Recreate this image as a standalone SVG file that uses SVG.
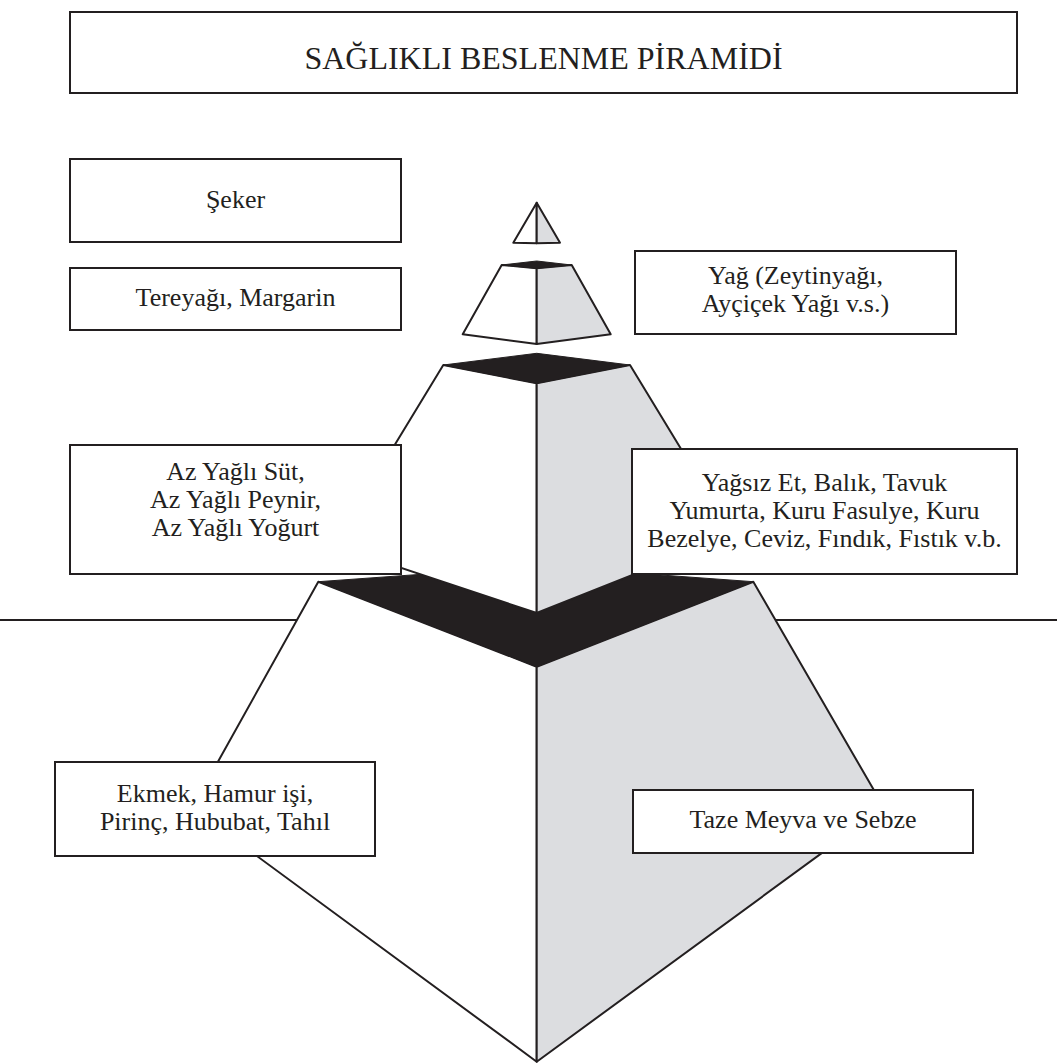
<svg xmlns="http://www.w3.org/2000/svg" width="1057" height="1063" viewBox="0 0 1057 1063">
<style>
.box{fill:#fff;stroke:#231f20;stroke-width:2}
text{font-family:'Liberation Serif','Times New Roman','DejaVu Serif',serif;font-size:26px;fill:#231f20;text-anchor:middle}
text.title{font-size:32px}
.w{fill:#fff;stroke:#231f20;stroke-width:2;stroke-linejoin:round}
.g{fill:#dcdde0;stroke:#231f20;stroke-width:2;stroke-linejoin:round}
.k{fill:#231f20;stroke:#231f20;stroke-width:1;stroke-linejoin:round}
</style>
<rect width="1057" height="1063" fill="#fff"/>
<g id="ground-line"><line x1="0" y1="620" x2="1057" y2="620" stroke="#231f20" stroke-width="2"/></g>
<g id="pyramid">
<g id="tier-bottom">
<polygon class="w" points="318.3,581.7 536.7,666.7 536.7,1061.7 192,808.3"/>
<polygon class="g" points="536.7,666.7 753.3,581.7 884,807.6 536.7,1061.7"/>
<polygon class="k" points="318.3,581.7 536.7,566 753.3,581.7 536.7,666.7"/>
</g>
<g id="tier-middle">
<polygon class="w" points="443.3,365 536.7,383.3 536.7,613 333.6,545.4"/>
<polygon class="g" points="536.7,383.3 630,365 733.3,534.9 536.7,613"/>
<polygon class="k" points="443.3,365 536.7,353.3 630,365 536.7,383.3"/>
</g>
<g id="tier-upper">
<polygon class="w" points="501.7,265 536.7,268.3 536.7,344 462.7,334.3"/>
<polygon class="g" points="536.7,268.3 571.7,265 610.7,334.3 536.7,344"/>
<polygon class="k" points="501.7,265 536.7,261 571.7,265 536.7,268.3"/>
</g>
<g id="tier-top">
<polygon class="w" points="536.7,202.7 536.7,243.3 513.3,242.7"/>
<polygon class="g" points="536.7,202.7 560,242.7 536.7,243.3"/>
</g>
</g>
<g id="title"><rect class="box" x="70" y="12" width="947" height="81"/><text class="title" x="543.5" y="69">SAĞLIKLI BESLENME PİRAMİDİ</text></g>
<g id="seker"><rect class="box" x="70" y="159" width="331" height="83"/><text x="235.5" y="208">Şeker</text></g>
<g id="tereyagi"><rect class="box" x="70" y="268" width="331" height="62"/><text x="235.5" y="306">Tereyağı, Margarin</text></g>
<g id="yag"><rect class="box" x="635" y="251" width="321" height="83"/><text x="795.5" y="284">Yağ (Zeytinyağı,</text><text x="795.5" y="312">Ayçiçek Yağı v.s.)</text></g>
<g id="sut"><rect class="box" x="70" y="445" width="331" height="129"/><text x="235.5" y="480">Az Yağlı Süt,</text><text x="235.5" y="508">Az Yağlı Peynir,</text><text x="235.5" y="536">Az Yağlı Yoğurt</text></g>
<g id="et"><rect class="box" x="632" y="449" width="385" height="125"/><text x="824.5" y="491">Yağsız Et, Balık, Tavuk</text><text x="824.5" y="519">Yumurta, Kuru Fasulye, Kuru</text><text x="824.5" y="547">Bezelye, Ceviz, Fındık, Fıstık v.b.</text></g>
<g id="ekmek"><rect class="box" x="55" y="762" width="320" height="94"/><text x="215" y="802">Ekmek, Hamur işi,</text><text x="215" y="830">Pirinç, Hububat, Tahıl</text></g>
<g id="meyve"><rect class="box" x="633" y="790" width="340" height="63"/><text x="803" y="828">Taze Meyva ve Sebze</text></g>
</svg>
